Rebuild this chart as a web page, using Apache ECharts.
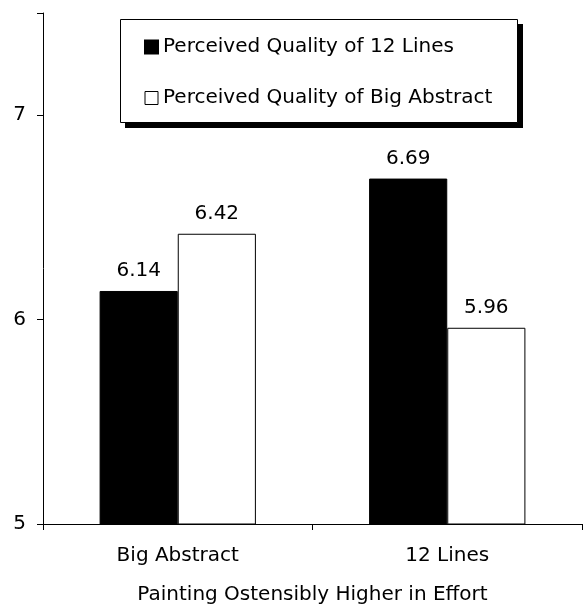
<!DOCTYPE html>
<html><head><meta charset="utf-8">
<script src="https://cdn.jsdelivr.net/npm/echarts@6/dist/echarts.min.js"></script>
<style>html,body{margin:0;padding:0;background:#fff}#c{width:585px;height:610px}</style>
</head><body><div id="c"></div>
<script>
const categories = ['Big Abstract', '12 Lines'];
const seriesNames = ['Perceived Quality of 12 Lines', 'Perceived Quality of Big Abstract'];
const quality12Lines = [6.14, 6.69];
const qualityBigAbstract = [6.42, 5.96];
const yTicks = [5, 6, 7];
const xAxisTitle = 'Painting Ostensibly Higher in Effort';

const FONT = 'DejaVu Sans';
const chart = echarts.init(document.getElementById('c'));
chart.setOption({
  animation: false,
  backgroundColor: '#fff',
  textStyle: { fontFamily: FONT, color: '#000' },
  grid: { left: 43, right: 3, top: 13, bottom: 84 },
  graphic: [
    { type: 'rect', z: 1, shape: { x: 125, y: 24, width: 398, height: 104 }, style: { fill: '#000' } },
    { type: 'rect', z: 2, shape: { x: 120.5, y: 19.5, width: 397, height: 103 }, style: { fill: '#fff', stroke: '#000', lineWidth: 1 } }
  ],
  legend: {
    z: 10,
    orient: 'vertical', left: 139, top: 31,
    padding: 5, itemGap: 29,
    itemWidth: 13, itemHeight: 13,
    textStyle: { fontFamily: FONT, fontSize: 20, lineHeight: 22, color: '#000' },
    data: [
      { name: seriesNames[0], icon: 'rect' },
      { name: seriesNames[1], icon: 'rect', itemStyle: { color: '#fff', borderColor: '#000', borderWidth: 1 } }
    ]
  },
  xAxis: {
    type: 'category', data: categories,
    axisLine: { lineStyle: { color: '#000', width: 1 } },
    axisTick: { show: true, length: 6, lineStyle: { color: '#000' } },
    axisLabel: { fontSize: 20, color: '#000', margin: 22, fontFamily: FONT },
    name: xAxisTitle, nameLocation: 'middle', nameGap: 61,
    nameTextStyle: { fontSize: 20, color: '#000', fontFamily: FONT }
  },
  yAxis: {
    type: 'value', min: 5, max: 7.5, interval: 1,
    axisLine: { show: true, lineStyle: { color: '#000', width: 1 } },
    axisTick: { show: true, length: 6, lineStyle: { color: '#000' } },
    splitLine: { show: false },
    axisLabel: { fontSize: 20, color: '#000', margin: 17, fontFamily: FONT,
      formatter: v => yTicks.includes(v) ? String(v) : '' }
  },
  series: [
    { name: seriesNames[0], type: 'bar', data: quality12Lines, barWidth: '29%', barGap: '0%',
      itemStyle: { color: '#000', borderColor: '#000', borderWidth: 1 },
      label: { show: true, position: 'top', distance: 10, fontSize: 20, color: '#000', fontFamily: FONT,
        formatter: p => p.value.toFixed(2) } },
    { name: seriesNames[1], type: 'bar', data: qualityBigAbstract, barWidth: '29%', barGap: '0%',
      itemStyle: { color: '#fff', borderColor: '#000', borderWidth: 1 },
      label: { show: true, position: 'top', distance: 10, fontSize: 20, color: '#000', fontFamily: FONT,
        formatter: p => p.value.toFixed(2) } }
  ]
});
</script></body></html>
